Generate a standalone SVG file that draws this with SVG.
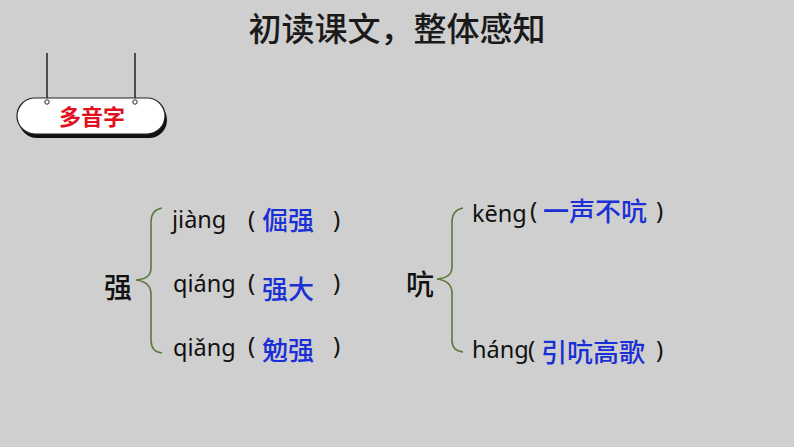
<svg xmlns="http://www.w3.org/2000/svg" width="794" height="447" viewBox="0 0 794 447">
<style>
.cjk{font-family:"Noto Sans CJK SC","Noto Sans",sans-serif;}
.py{font-family:"Noto Sans","Noto Sans CJK SC",sans-serif;font-size:23.5px;fill:#111;}
.par{font-family:"Noto Sans",sans-serif;font-size:24px;fill:#111;}
.blue{font-family:"Noto Sans CJK SC",sans-serif;font-size:26px;font-weight:500;fill:#1a2fd6;}
.big{font-family:"Noto Sans CJK SC",sans-serif;font-size:28px;font-weight:500;fill:#111;}
.brace{fill:none;stroke:#5b7a3c;stroke-width:1.6;}
</style>
<rect width="794" height="447" fill="#d0cfcf"/>
<g id="title">
<text class="cjk" x="397" y="41" font-size="33" font-weight="500" fill="#1a1a1a" text-anchor="middle">初读课文，整体感知</text>
</g>
<g id="badge">
<line x1="47" y1="53" x2="47" y2="100" stroke="#222" stroke-width="1.5"/>
<line x1="135" y1="53" x2="135" y2="100" stroke="#222" stroke-width="1.5"/>
<rect x="19" y="102" width="148" height="36" rx="18" fill="#111"/>
<rect x="17" y="98" width="148" height="36" rx="18" fill="#fff" stroke="#222" stroke-width="1.2"/>
<circle cx="47" cy="102" r="2.2" fill="#fff" stroke="#222" stroke-width="1"/>
<circle cx="135" cy="102" r="2.2" fill="#fff" stroke="#222" stroke-width="1"/>
<text class="cjk" x="92" y="125" font-size="22" font-weight="bold" fill="#e0101e" text-anchor="middle">多音字</text>
</g>
<g id="qiang">
<text class="big" x="104" y="298">强</text>
<text class="py" x="172" y="228">jiàng</text>
<text class="par" x="248" y="228">(</text>
<text class="blue" x="262" y="230">倔强</text>
<text class="par" x="333" y="228">)</text>
<text class="py" x="173" y="292">qiáng</text>
<text class="par" x="248" y="291">(</text>
<text class="blue" x="262" y="299">强大</text>
<text class="par" x="333" y="291">)</text>
<text class="py" x="173" y="356">qiǎng</text>
<text class="par" x="248" y="354">(</text>
<text class="blue" x="262" y="360">勉强</text>
<text class="par" x="333" y="354">)</text>
</g>
<g id="hang">
<text class="big" x="406" y="295">吭</text>
<text class="py" x="472" y="222">kēng</text>
<text class="par" x="530" y="219">(</text>
<text class="blue" x="543" y="221">一声不吭</text>
<text class="par" x="656" y="219">)</text>
<text class="py" x="472" y="358">háng</text>
<text class="par" x="528" y="358">(</text>
<text class="blue" x="541" y="362">引吭高歌</text>
<text class="par" x="656" y="358">)</text>
</g>
<g id="connectors">
<path class="brace" d="M162 208 Q151 210 151 222 L151 268 Q151 279 136 280 Q151 282 151 294 L151 340 Q151 352 162 353"/>
<path class="brace" d="M463 208 Q452 210 452 222 L452 267 Q452 278 437 279 Q452 281 452 293 L452 340 Q452 351 463 352"/>
</g>
</svg>
